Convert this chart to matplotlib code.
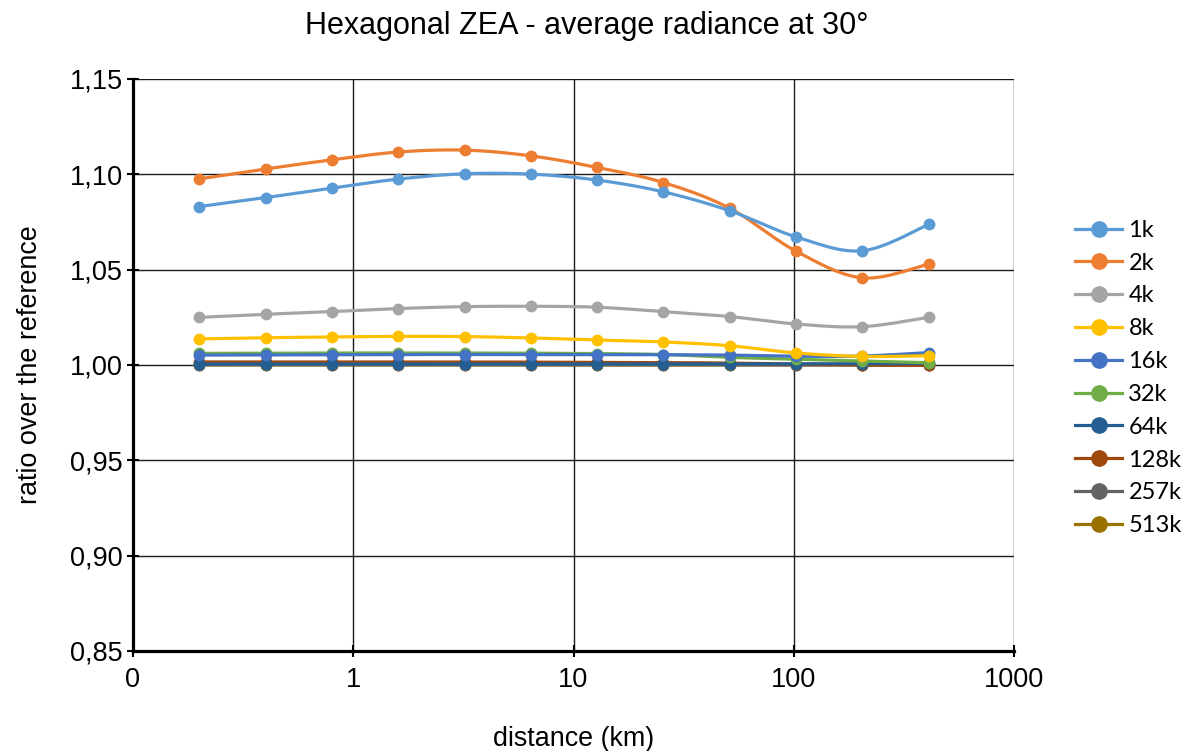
import numpy as np
import matplotlib
matplotlib.use("Agg")
import matplotlib.pyplot as plt
from matplotlib.ticker import FixedLocator, FixedFormatter, NullLocator
from matplotlib.lines import Line2D

# distance (km) of each sample
distance = [0.2, 0.4, 0.8, 1.6, 3.2, 6.4, 12.8, 25.6, 51.2, 102.4, 204.8, 409.6]

labels = ["1k", "2k", "4k", "8k", "16k", "32k", "64k", "128k", "257k", "513k"]

r_1k = [1.0831, 1.0878, 1.0928, 1.0975, 1.1003, 1.1001, 1.0970, 1.0908, 1.0809, 1.0672, 1.0599, 1.0737]
r_2k = [1.0976, 1.1028, 1.1076, 1.1117, 1.1127, 1.1097, 1.1036, 1.0957, 1.0822, 1.0597, 1.0457, 1.0529]
r_4k = [1.0250, 1.0266, 1.0280, 1.0296, 1.0306, 1.0308, 1.0303, 1.0280, 1.0254, 1.0215, 1.0201, 1.0250]
r_8k = [1.0137, 1.0143, 1.0147, 1.0150, 1.0149, 1.0142, 1.0131, 1.0121, 1.0101, 1.0063, 1.0045, 1.0049]
r_16k = [1.0052, 1.0053, 1.0054, 1.0055, 1.0055, 1.0055, 1.0055, 1.0054, 1.0052, 1.0046, 1.0047, 1.0065]
r_32k = [1.0061, 1.0062, 1.0063, 1.0063, 1.0063, 1.0062, 1.0060, 1.0055, 1.0040, 1.0030, 1.0021, 1.0012]
r_64k = [1.0005, 1.0005, 1.0005, 1.0005, 1.0005, 1.0005, 1.0005, 1.0005, 1.0005, 1.0006, 1.0007, 1.0008]
r_128k = [1.0016, 1.0016, 1.0016, 1.0016, 1.0016, 1.0015, 1.0014, 1.0013, 1.0010, 1.0005, 1.0000, 0.9998]
r_257k = [1.0002, 1.0002, 1.0002, 1.0002, 1.0002, 1.0002, 1.0002, 1.0002, 1.0002, 1.0001, 1.0001, 1.0001]
r_513k = [1.0001, 1.0001, 1.0001, 1.0001, 1.0001, 1.0001, 1.0001, 1.0001, 1.0001, 1.0001, 1.0000, 1.0000]

series = [r_1k, r_2k, r_4k, r_8k, r_16k, r_32k, r_64k, r_128k, r_257k, r_513k]

colors = ["#5B9BD5", "#ED7D31", "#A5A5A5", "#FFC000", "#4472C4",
          "#70AD47", "#255E91", "#9E480E", "#636363", "#997300"]

y_ticks = [0.85, 0.90, 0.95, 1.00, 1.05, 1.10, 1.15]
x_ticks = [0.1, 1, 10, 100, 1000]
x_tick_labels = ["0", "1", "10", "100", "1000"]


def smooth_curve(x, y, steps=30):
    """Cardinal (Catmull-Rom) Bezier smoothing in log10(x) space."""
    u = np.log10(np.asarray(x, float))
    v = np.asarray(y, float)
    n = len(u)
    pts = np.column_stack([u, v])
    out = [pts[0]]
    t = np.linspace(0, 1, steps + 1)[1:]
    for i in range(n - 1):
        p0 = pts[i - 1] if i > 0 else pts[i]
        p1 = pts[i]
        p2 = pts[i + 1]
        p3 = pts[i + 2] if i + 2 < n else pts[i + 1]
        c1 = p1 + (p2 - p0) / 6.0
        c2 = p2 - (p3 - p1) / 6.0
        tt = t[:, None]
        seg = ((1 - tt) ** 3) * p1 + 3 * ((1 - tt) ** 2) * tt * c1 \
            + 3 * (1 - tt) * tt ** 2 * c2 + tt ** 3 * p2
        out.extend(seg)
    out = np.array(out)
    return 10 ** out[:, 0], out[:, 1]


plt.rcParams["font.family"] = ["Liberation Sans", "DejaVu Sans"]

fig = plt.figure(figsize=(11.95, 7.51), dpi=100)
ax = fig.add_axes([133 / 1195, 1 - 651 / 751, (1014 - 133) / 1195, (651 - 79) / 751])

ax.set_xscale("log")
ax.set_xlim(0.1, 1000)
ax.set_ylim(0.85, 1.15)

n_series = len(series)
for k, (vals, lab, col) in enumerate(zip(series, labels, colors)):
    z = 10 + (n_series - k)
    sx, sy = smooth_curve(distance, vals)
    ax.plot(sx, sy, color=col, lw=2.3, zorder=z, solid_capstyle="round")
    ax.plot(distance, vals, linestyle="none", marker="o", markersize=7.5,
            color=col, zorder=z)

# grid
ax.xaxis.set_major_locator(FixedLocator(x_ticks))
ax.xaxis.set_major_formatter(FixedFormatter(x_tick_labels))
ax.xaxis.set_minor_locator(NullLocator())
ax.yaxis.set_major_locator(FixedLocator(y_ticks))
ax.yaxis.set_major_formatter(FixedFormatter([f"{v:.2f}".replace(".", ",") for v in y_ticks]))
ax.grid(True, which="major", color="#1a1a1a", lw=1.0, zorder=1)
ax.set_axisbelow(True)

for side in ["top", "right"]:
    ax.spines[side].set_visible(False)
for side in ["left", "bottom"]:
    ax.spines[side].set_linewidth(2.3)
    ax.spines[side].set_color("black")
    ax.spines[side].set_zorder(30)

ax.tick_params(axis="both", which="major", direction="inout", length=9, width=1.5,
               labelsize=19.5, colors="black")
ax.tick_params(axis="x", pad=7)
ax.tick_params(axis="y", pad=3)

ax.set_xlabel("distance (km)", fontsize=19.4, labelpad=24)
ax.set_ylabel("ratio over the reference", fontsize=19.4, labelpad=19)
fig.text(587 / 1195, 1 - 26 / 751, "Hexagonal ZEA - average radiance at 30°",
         ha="center", va="center", fontsize=22)

handles = [Line2D([0], [0], color=c, lw=2.3, marker="o", markersize=11) for c in colors]
leg = fig.legend(handles, labels, loc="center left",
                 bbox_to_anchor=(1054 / 1195, 1 - 378 / 751),
                 frameon=False, handlelength=2.0, handletextpad=0.25,
                 labelspacing=0.5, prop={"family": ["Lato", "DejaVu Sans"], "size": 17})

fig.savefig("out.png", dpi=100, facecolor="white")
